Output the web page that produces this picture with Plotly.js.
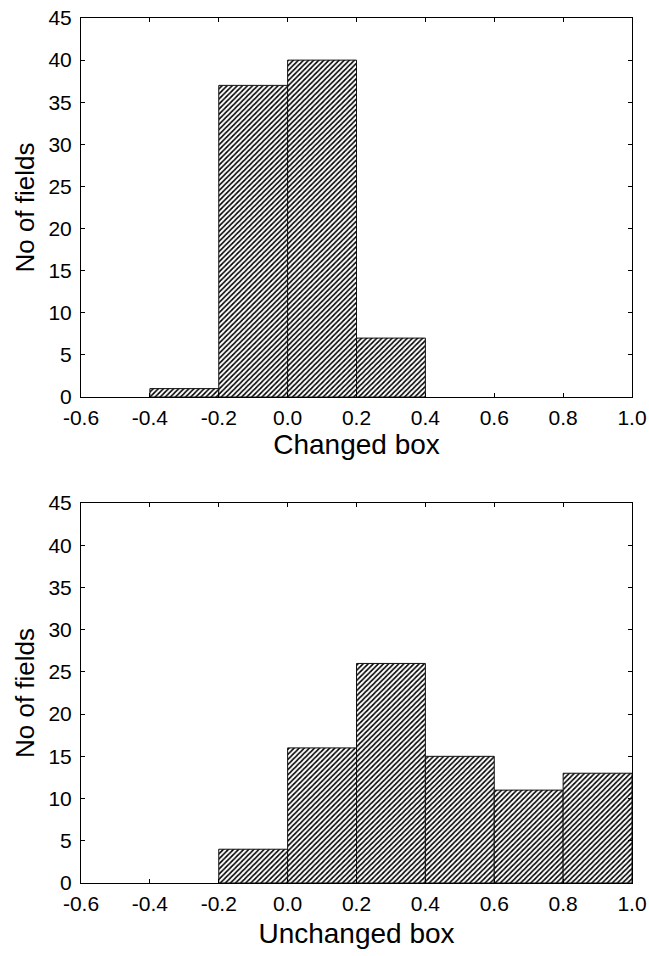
<!DOCTYPE html>
<html><head><meta charset="utf-8">
<script src="https://cdn.plot.ly/plotly-3.0.1.min.js"></script>
<style>body{margin:0;background:#fff}#c{width:649px;height:956px}</style>
</head><body><div id="c"></div>
<script>
// Bin left edges and counts
const binWidth = 0.2;
const changedBins = [-0.4, -0.2, 0.0, 0.2];
const changedCounts = [1, 37, 40, 7];
const unchangedBins = [-0.2, 0.0, 0.2, 0.4, 0.6, 0.8];
const unchangedCounts = [4, 16, 26, 15, 11, 13];
const xTicks = [-0.6, -0.4, -0.2, 0.0, 0.2, 0.4, 0.6, 0.8, 1.0];
const xTickText = ["-0.6", "-0.4", "-0.2", "0.0", "0.2", "0.4", "0.6", "0.8", "1.0"];
const yTicks = [0, 5, 10, 15, 20, 25, 30, 35, 40, 45];

const barStyle = {
  color: "white",
  line: {color: "#111", width: 1},
  pattern: {shape: "/", fgcolor: "#000", bgcolor: "white", size: 3.6, solidity: 0.45}
};
const traces = [
  {type: "bar", x: changedBins, y: changedCounts, width: binWidth, offset: 0,
   marker: barStyle, xaxis: "x", yaxis: "y", showlegend: false, hoverinfo: "none"},
  {type: "bar", x: unchangedBins, y: unchangedCounts, width: binWidth, offset: 0,
   marker: barStyle, xaxis: "x2", yaxis: "y2", showlegend: false, hoverinfo: "none"}
];
const font = {family: "Liberation Sans, Arial, sans-serif", color: "#000"};
function xa(title, dom, so) {
  return {range: [-0.6, 1.0], tickvals: xTicks, ticktext: xTickText, ticks: "inside", ticklen: 4,
    tickcolor: "#000", mirror: "ticks", showline: true, linecolor: "#000", linewidth: 1,
    showgrid: false, zeroline: false, tickfont: {size: 21}, anchor: dom,
    ticklabelstandoff: 2,
    title: {text: title, font: {size: 28}, standoff: so}};
}
function ya(dom) {
  return {range: [0, 45], tickvals: yTicks, ticks: "inside", ticklen: 4, tickcolor: "#000",
    mirror: "ticks", showline: true, linecolor: "#000", linewidth: 1, showgrid: false,
    zeroline: false, tickfont: {size: 21}, domain: dom, ticklabelstandoff: 4,
    title: {text: "No of fields", font: {size: 26}, standoff: 6}};
}
const layout = {
  width: 649, height: 956, paper_bgcolor: "white", plot_bgcolor: "white",
  margin: {l: 81, r: 17, t: 18, b: 73},
  font: font, bargap: 0,
  xaxis: xa("Changed box", "y", 2),
  yaxis: ya([0.5618, 1]),
  xaxis2: xa("Unchanged box", "y2", 9),
  yaxis2: ya([0, 0.4393])
};
Plotly.newPlot("c", traces, layout, {displayModeBar: false, staticPlot: true});
</script></body></html>
